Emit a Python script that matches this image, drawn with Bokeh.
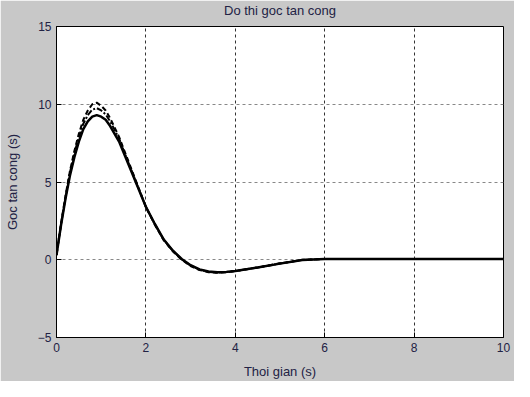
from bokeh.plotting import figure
from bokeh.models import Range1d, FixedTicker, Title
from bokeh.embed import file_html
from bokeh.resources import INLINE

# time (s)
t = [0, 0.1, 0.2, 0.3, 0.4, 0.5, 0.6, 0.7, 0.8, 0.9, 1.0, 1.1, 1.2, 1.4, 1.6, 1.8,
     2.0, 2.2, 2.4, 2.6, 2.8, 3.0, 3.2, 3.4, 3.6, 3.8, 4.0, 4.5, 5.0, 5.5, 6.0,
     7.0, 8.0, 9.0, 10.0]

alpha_solid = [0.3, 2.2, 3.9, 5.4, 6.6, 7.6, 8.4, 8.9, 9.2, 9.3, 9.2, 9.0, 8.6, 7.6, 6.2, 4.8,
               3.4, 2.3, 1.3, 0.6, 0.05, -0.35, -0.62, -0.76, -0.8, -0.78, -0.72, -0.5, -0.25, -0.02, 0.05,
               0.05, 0.05, 0.05, 0.05]

alpha_dash = [0.3, 2.3, 4.1, 5.7, 7.0, 8.1, 9.0, 9.6, 10.0, 10.1, 9.9, 9.6, 9.1, 7.9, 6.4, 4.9,
              3.4, 2.25, 1.25, 0.55, 0.0, -0.4, -0.66, -0.8, -0.83, -0.8, -0.73, -0.5, -0.23, 0.0, 0.05,
              0.05, 0.05, 0.05, 0.05]

alpha_dashdot = [0.3, 2.25, 4.0, 5.6, 6.85, 7.9, 8.75, 9.3, 9.65, 9.75, 9.6, 9.35, 8.9, 7.8, 6.3, 4.85,
                 3.4, 2.28, 1.28, 0.58, 0.03, -0.37, -0.64, -0.78, -0.82, -0.79, -0.72, -0.5, -0.24, -0.01, 0.05,
                 0.05, 0.05, 0.05, 0.05]

x_ticks = [0, 2, 4, 6, 8, 10]
y_ticks = [-5, 0, 5, 10, 15]
title_text = "Do thi goc tan cong"

p = figure(width=514, height=381, output_backend="svg", toolbar_location=None,
           x_range=Range1d(0, 10), y_range=Range1d(-5, 15),
           min_border_left=56, min_border_right=11, min_border_top=26, min_border_bottom=44,
           border_fill_color="#c8c8c8", background_fill_color="white",
           outline_line_color="black", outline_line_width=1)

p.title.text = title_text
p.title.align = "center"
p.title.text_font = "Liberation Sans"
p.title.text_font_size = "13px"
p.title.text_font_style = "normal"
p.title.text_color = "#222244"
p.title.standoff = 0

# small spacer between the frame and the title
p.add_layout(Title(text=" ", text_font_size="7px", standoff=0), "above")

for ax, ticks in ((p.xaxis, x_ticks), (p.yaxis, y_ticks)):
    ax.ticker = FixedTicker(ticks=ticks)
    ax.axis_line_color = "black"
    ax.major_tick_line_color = "black"
    ax.major_tick_in = 5
    ax.major_tick_out = 0
    ax.minor_tick_line_color = None
    ax.major_label_text_font = "Liberation Sans"
    ax.major_label_text_font_size = "12px"
    ax.major_label_text_color = "#222244"
    ax.major_label_standoff = 5
    ax.axis_label_text_font = "Liberation Sans"
    ax.axis_label_text_font_size = "13px"
    ax.axis_label_text_font_style = "normal"
    ax.axis_label_text_color = "#222244"

p.xaxis.axis_label = "Thoi gian (s)"
p.yaxis.axis_label = "Goc tan cong (s)"
p.xaxis.axis_label_standoff = 9
p.yaxis.axis_label_standoff = 15

p.xgrid.grid_line_color = "#333333"
p.ygrid.grid_line_color = "#888888"
p.grid.grid_line_dash = "3 3"
p.grid.grid_line_width = 1

p.line(t, alpha_dash, line_color="black", line_width=2, line_dash="5 3")
p.line(t, alpha_dashdot, line_color="black", line_width=2, line_dash="6 2 2 2")
p.line(t, alpha_solid, line_color="black", line_width=2.5)

open("out.html", "w").write(file_html(p, INLINE))
